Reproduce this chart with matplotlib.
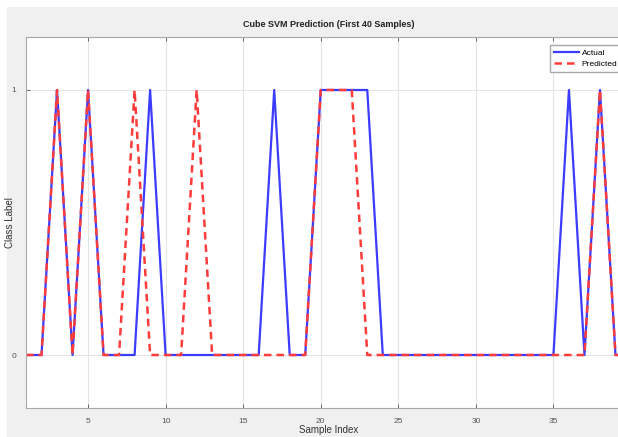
import matplotlib.pyplot as plt
from matplotlib.patches import Rectangle

# sample index and class labels (40th sample lies past the crop)
sample_index = list(range(1, 41))
actual = [0, 0, 1, 0, 1, 0, 0, 0, 1, 0,
          0, 0, 0, 0, 0, 0, 1, 0, 0, 1,
          1, 1, 1, 0, 0, 0, 0, 0, 0, 0,
          0, 0, 0, 0, 0, 1, 0, 1, 0, 0]
predicted = [0, 0, 1, 0, 1, 0, 0, 1, 0, 0,
             0, 1, 0, 0, 0, 0, 0, 0, 0, 1,
             1, 1, 0, 0, 0, 0, 0, 0, 0, 0,
             0, 0, 0, 0, 0, 0, 0, 1, 0, 0]
x_ticks = [5, 10, 15, 20, 25, 30, 35]
y_ticks = [0, 1]

plt.rcParams['font.family'] = ['Liberation Sans', 'DejaVu Sans']

W, H = 618, 437
fig = plt.figure(figsize=(W / 100, H / 100), dpi=100)
fig.patch.set_facecolor('white')
# grey MATLAB-style figure area, with a thin white border top and left
fig.add_artist(Rectangle((7 / W, 0), 1, 1 - 7 / H, transform=fig.transFigure,
                         facecolor='#f0f0f0', edgecolor='none', zorder=-10))

# axes run past the right edge, like the cropped original
left, right, top, bottom = 26, 631, 37, 408
ax = fig.add_axes([left / W, 1 - bottom / H, (right - left) / W, (bottom - top) / H])
ax.set_facecolor('white')

ax.plot(sample_index, actual, '-', color='#3c3cff', lw=1.6, label='Actual')
ax.plot(sample_index, predicted, '--', color='#ff3c3c', lw=1.8,
        dashes=(3, 2), label='Predicted')

ax.set_xlim(1, 40)
ax.set_ylim(-0.2, 1.2)
ax.set_xticks(x_ticks)
ax.set_yticks(y_ticks)
ax.grid(True, color='#e4e4e4', lw=0.8)
ax.set_axisbelow(True)
ax.tick_params(direction='in', length=3, width=0.6, colors='#555555',
               labelsize=6, top=True, right=True, pad=7)
for s in ax.spines.values():
    s.set_color('#a8a8a8')
    s.set_linewidth(0.8)

ax.set_title('Cube SVM Prediction (First 40 Samples)', fontsize=6.5,
             fontweight='bold', color='#222222', pad=7)
ax.set_xlabel('Sample Index', fontsize=7, color='#333333')
ax.set_ylabel('Class Label', fontsize=7, color='#333333')
ax.yaxis.set_label_coords((15 - left) / (right - left), 0.5)
ax.xaxis.set_label_coords(0.5, -(425 - bottom) / (bottom - top))

ax.legend(loc='upper left', bbox_to_anchor=(550 / W, 1 - 45 / H),
          bbox_transform=fig.transFigure, borderaxespad=0, fontsize=6,
          frameon=True, fancybox=False, edgecolor='#a8a8a8', framealpha=1,
          handlelength=3.0, handletextpad=0.3, borderpad=0.5, labelspacing=0.4)

fig.savefig('out.png', dpi=100)
